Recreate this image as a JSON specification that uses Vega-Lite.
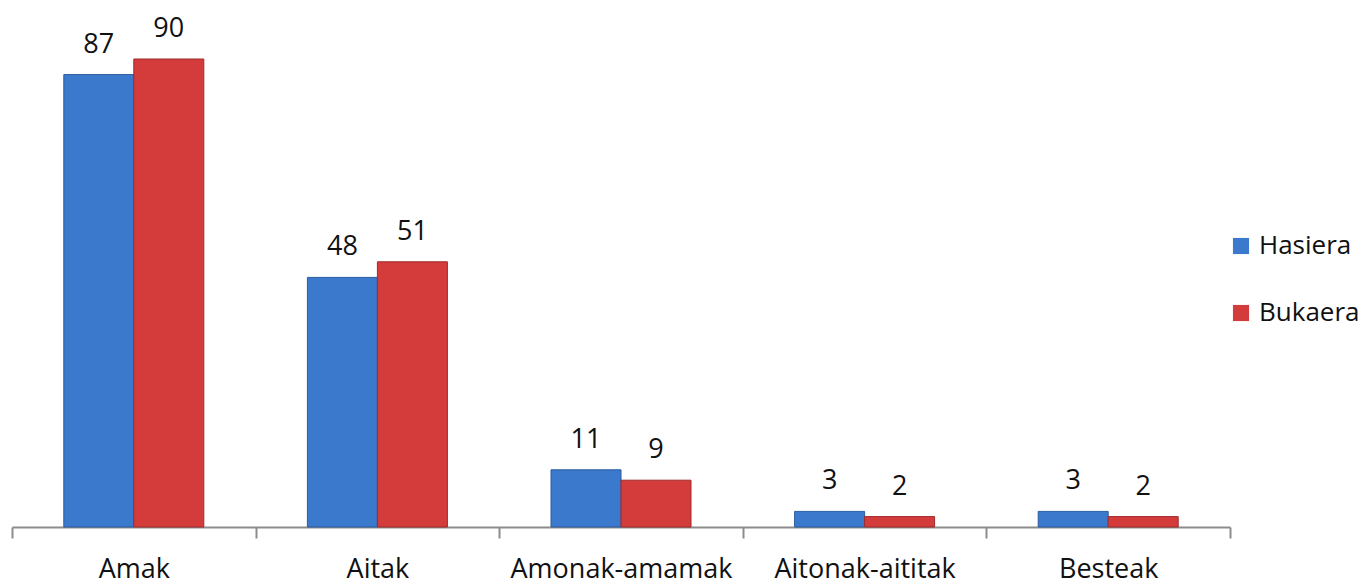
{
  "$schema": "https://vega.github.io/schema/vega-lite/v6.json",
  "width": 1218,
  "height": 520,
  "autosize": {"type": "none"},
  "padding": {"left": 12, "top": 7, "right": 138, "bottom": 57},
  "background": "white",
  "config": {"view": {"stroke": null}, "font": "Open Sans"},
  "data": {"values": [
    {"cat": "Amak", "series": "Hasiera", "value": 87},
    {"cat": "Amak", "series": "Bukaera", "value": 90},
    {"cat": "Aitak", "series": "Hasiera", "value": 48},
    {"cat": "Aitak", "series": "Bukaera", "value": 51},
    {"cat": "Amonak-amamak", "series": "Hasiera", "value": 11},
    {"cat": "Amonak-amamak", "series": "Bukaera", "value": 9},
    {"cat": "Aitonak-aititak", "series": "Hasiera", "value": 3},
    {"cat": "Aitonak-aititak", "series": "Bukaera", "value": 2},
    {"cat": "Besteak", "series": "Hasiera", "value": 3},
    {"cat": "Besteak", "series": "Bukaera", "value": 2}
  ]},
  "encoding": {
    "x": {"field": "cat", "type": "nominal", "sort": null,
      "scale": {"paddingInner": 0, "paddingOuter": 0},
      "axis": {"title": null, "labelAngle": 0, "labelFontSize": 27, "labelColor": "#111", "labelFont": "Open Sans", "labelLimit": 400,
        "domainColor": "#8c8c8c", "domainWidth": 2, "tickColor": "#8c8c8c", "tickWidth": 2, "tickSize": 11,
        "tickBand": "extent", "labelPadding": 18}},
    "xOffset": {"field": "series", "type": "nominal", "sort": ["Hasiera", "Bukaera"],
      "scale": {"paddingInner": 0, "paddingOuter": 0.74}},
    "y": {"field": "value", "type": "quantitative", "scale": {"domain": [0, 100]}, "axis": null}
  },
  "layer": [
    {
      "mark": {"type": "bar", "strokeWidth": 1},
      "encoding": {
        "color": {"field": "series", "type": "nominal", "sort": ["Hasiera", "Bukaera"],
          "scale": {"domain": ["Hasiera", "Bukaera"], "range": ["#3b79cc", "#d43c3c"]},
          "legend": {"title": null, "orient": "none", "legendX": 1216, "legendY": 226,
            "symbolType": "square", "symbolSize": 260, "labelFontSize": 26, "labelFont": "Open Sans", "labelColor": "#111",
            "rowPadding": 41, "labelOffset": 5, "symbolStrokeWidth": 0}},
        "stroke": {"field": "series", "type": "nominal",
          "scale": {"domain": ["Hasiera", "Bukaera"], "range": ["#2a5d9f", "#9e2a2a"]}, "legend": null}
      }
    },
    {
      "mark": {"type": "text", "fontSize": 27, "baseline": "alphabetic", "dy": -22, "color": "#111", "font": "Open Sans"},
      "encoding": {"text": {"field": "value", "type": "quantitative"}}
    }
  ]
}
